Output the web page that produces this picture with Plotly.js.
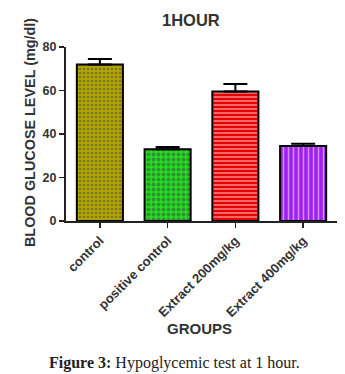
<!DOCTYPE html>
<html><head><meta charset="utf-8">
<script src="https://cdn.plot.ly/plotly-3.0.1.min.js"></script>
<style>html,body{margin:0;padding:0;background:#fff}#chart{width:345px;height:374px}</style>
</head><body><div id="chart"></div>
<script>
const groups = ["control", "positive control", "Extract 200mg/kg", "Extract 400mg/kg"];
const glucose = [72, 33, 59.5, 34.5];
const sem = [2.5, 1, 3.5, 1];
const bgColors = ["#b3a500", "#22dd22", "#e80000", "#a020f0"];
const fgColors = ["#e8dc60", "#000000", "#ff3030", "#7000b8"];
const shapes = [".", ".", "-", "|"];
const patSizes = [4, 5, 4, 5];
const patSolid = [0.35, 0.45, 0.4, 0.3];
const yTicks = [0, 20, 40, 60, 80];

const trace = {
  type: "bar",
  x: groups,
  y: glucose,
  width: 0.68,
  marker: {
    color: bgColors,
    line: {color: "#000", width: 2},
    pattern: {shape: shapes, fillmode: "overlay", fgcolor: fgColors, size: patSizes, solidity: patSolid}
  },
  error_y: {type: "data", symmetric: false, array: sem, arrayminus: [0,0,0,0], color: "#000", thickness: 2, width: 12}
};

const layout = {
  width: 345, height: 374,
  margin: {l: 66, r: 8, t: 47, b: 153},
  paper_bgcolor: "#fff", plot_bgcolor: "#fff",
  showlegend: false,
  font: {family: "Liberation Sans, Arial, sans-serif", color: "#333"},
  xaxis: {
    type: "category", range: [-0.5, 3.5],
    showline: true, linecolor: "#222", linewidth: 2,
    ticks: "outside", ticklen: 5, tickwidth: 1.5, tickcolor: "#222",
    tickangle: -45, tickfont: {size: 13, color: "#333", weight: "bold"},
    showgrid: false, zeroline: false
  },
  yaxis: {
    range: [0, 80], tickvals: yTicks, ticktext: yTicks.map(String),
    showline: true, linecolor: "#222", linewidth: 2,
    ticks: "outside", ticklen: 5, tickwidth: 1.5, tickcolor: "#222",
    tickfont: {size: 12.5, color: "#333", weight: "bold"},
    showgrid: false, zeroline: false
  },
  annotations: [
    {text: "<b>1HOUR</b>", xref: "paper", yref: "paper", x: 0.461, y: 1.155, showarrow: false,
     font: {size: 16.5, color: "#333"}, xanchor: "center", yanchor: "middle"},
    {text: "<b>BLOOD GLUCOSE LEVEL (mg/dl)</b>", xref: "paper", yref: "paper", x: -0.133, y: 0.511,
     textangle: -90, showarrow: false, font: {size: 14.4, color: "#333"}, xanchor: "center", yanchor: "middle"},
    {text: "<b>GROUPS</b>", xref: "paper", yref: "paper", x: 0.494, y: -0.615, showarrow: false,
     font: {size: 15, color: "#333"}, xanchor: "center", yanchor: "middle"},
    {text: "<b>Figure 3:</b> Hypoglycemic test at 1 hour.", xref: "paper", yref: "paper", x: 0.402, y: -0.816,
     showarrow: false, font: {size: 16, color: "#222", family: "Liberation Serif, Times New Roman, serif"},
     xanchor: "center", yanchor: "middle"}
  ]
};

Plotly.newPlot("chart", [trace], layout, {staticPlot: true, displayModeBar: false});
</script>
</body></html>
